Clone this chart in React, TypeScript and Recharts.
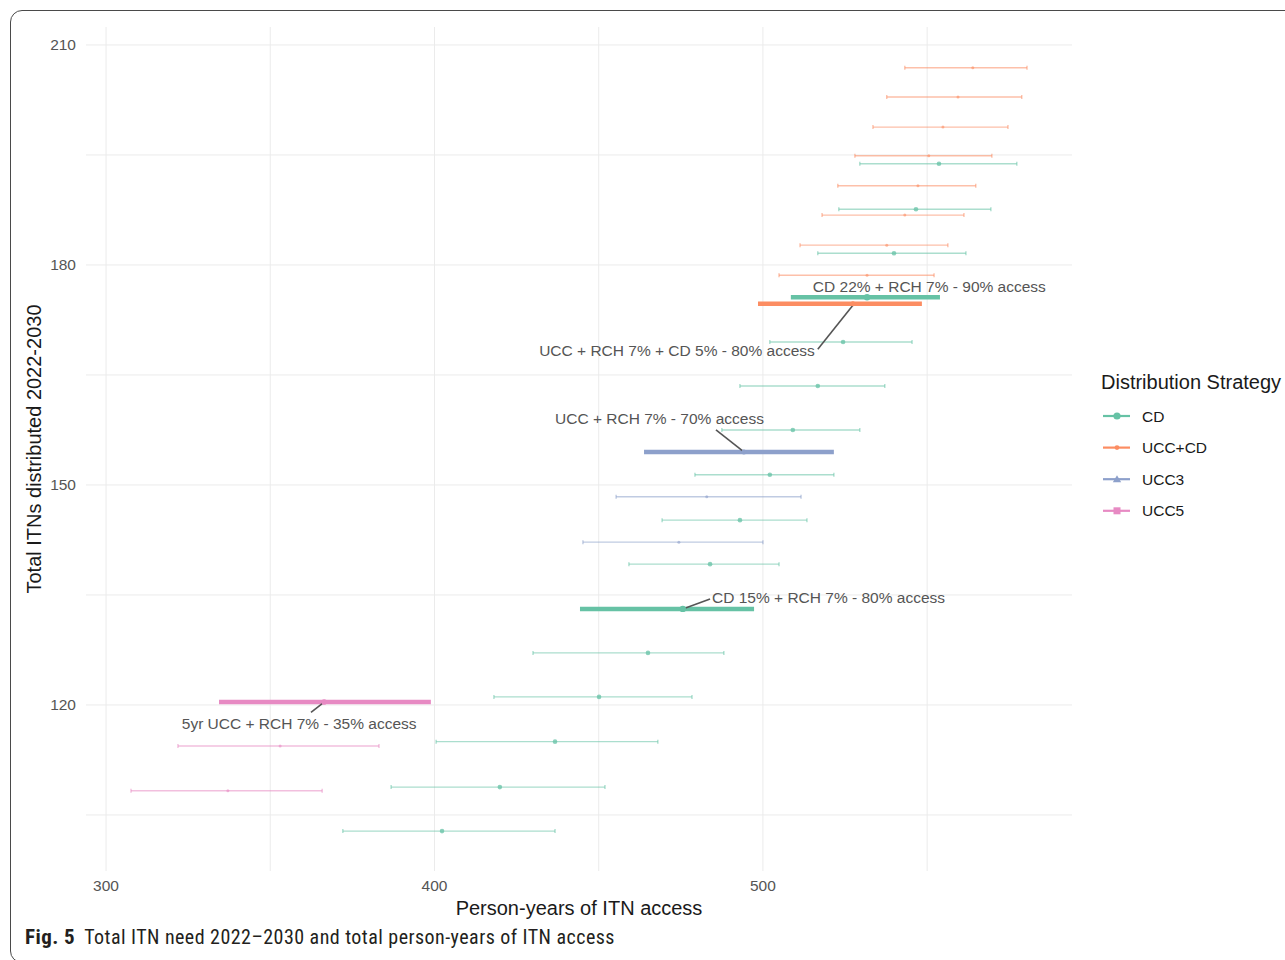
import React from 'react';
import {
  ComposedChart,
  Scatter,
  ErrorBar,
  XAxis,
  YAxis,
  ReferenceLine,
  ReferenceDot,
  Legend,
} from 'recharts';

const FONT = '"Liberation Sans", Arial, Helvetica, sans-serif';
const GREEN = '#66c2a5';
const ORANGE = '#fc8d62';
const BLUE = '#8da0cb';
const PINK = '#e78ac3';

// ---- Data: total ITNs distributed (y) and person-years of access (x: low / mid / high)
const cdTotal = [193.8, 187.6, 181.6, 169.5, 163.5, 157.5, 151.4, 145.2, 139.2, 127.1, 121.1, 115.0, 108.8, 102.8];
const cdLow = [529.5, 523.1, 516.7, 502.1, 493.0, 487.5, 479.3, 469.3, 459.2, 430.0, 418.1, 400.5, 386.8, 372.1];
const cdMid = [553.6, 546.6, 539.9, 524.4, 516.7, 509.1, 502.1, 493.0, 483.9, 465.0, 450.1, 436.7, 419.9, 402.3];
const cdHigh = [577.3, 569.4, 561.8, 545.4, 537.1, 529.5, 521.6, 513.4, 504.9, 488.1, 478.4, 468.0, 451.9, 436.7];

const cdHiTotal = [175.6, 133.1];
const cdHiLow = [508.5, 444.3];
const cdHiMid = [531.7, 475.6];
const cdHiHigh = [553.9, 497.3];

const uccCdTotal = [206.9, 202.9, 198.8, 194.9, 190.8, 186.8, 182.7, 178.6];
const uccCdLow = [543.2, 537.7, 533.5, 528.0, 522.8, 518.0, 511.3, 504.9];
const uccCdMid = [563.9, 559.4, 554.8, 550.5, 547.2, 543.2, 537.7, 531.7];
const uccCdHigh = [580.4, 578.8, 574.6, 569.7, 564.8, 561.2, 556.3, 552.1];

const uccCdHiTotal = [174.7];
const uccCdHiLow = [498.5];
const uccCdHiMid = [527.4];
const uccCdHiHigh = [548.4];

const ucc3Total = [148.4, 142.2];
const ucc3Low = [455.3, 445.2];
const ucc3Mid = [482.9, 474.4];
const ucc3High = [511.6, 500.0];

const ucc3HiTotal = [154.5];
const ucc3HiLow = [463.8];
const ucc3HiMid = [494.2];
const ucc3HiHigh = [521.6];

const ucc5Total = [114.4, 108.3];
const ucc5Low = [321.9, 307.6];
const ucc5Mid = [353.0, 337.1];
const ucc5High = [383.1, 365.8];

const ucc5HiTotal = [120.4];
const ucc5HiLow = [334.4];
const ucc5HiMid = [366.4];
const ucc5HiHigh = [398.9];

const xTicks = [300, 350, 400, 450, 500, 550];
const xTickLabels = [300, 400, 500];
const yTicks = [105, 120, 135, 150, 165, 180, 195, 210];
const yTickLabels = [120, 150, 180, 210];

const legendNames = ['CD', 'UCC+CD', 'UCC3', 'UCC5'];
const legendColors = [GREEN, ORANGE, BLUE, PINK];
const legendShapes = ['circle', 'dot', 'triangle', 'square'];

const annotations = [
  { text: 'CD 22% + RCH 7% - 90% access', x: 515.2, y: 177.0, anchor: 'start', leader: null },
  { text: 'UCC + RCH 7% + CD 5% - 80% access', x: 515.8, y: 168.4, anchor: 'end', leader: [[516.7, 168.5], [527.4, 174.5]] },
  { text: 'UCC + RCH 7% - 70% access', x: 468.5, y: 159.0, anchor: 'middle', leader: [[485.7, 157.5], [494.2, 154.5]] },
  { text: 'CD 15% + RCH 7% - 80% access', x: 484.5, y: 134.6, anchor: 'start', leader: [[475.6, 133.1], [483.9, 134.45]] },
  { text: '5yr UCC + RCH 7% - 35% access', x: 358.8, y: 117.5, anchor: 'middle', leader: [[362.4, 119.0], [366.4, 120.4]] },
];

function rows(total: number[], low: number[], mid: number[], high: number[]) {
  return total.map((y, i) => ({ x: mid[i], y, err: [mid[i] - low[i], high[i] - mid[i]] }));
}

const cdData = rows(cdTotal, cdLow, cdMid, cdHigh);
const cdHiData = rows(cdHiTotal, cdHiLow, cdHiMid, cdHiHigh);
const uccCdData = rows(uccCdTotal, uccCdLow, uccCdMid, uccCdHigh);
const uccCdHiData = rows(uccCdHiTotal, uccCdHiLow, uccCdHiMid, uccCdHiHigh);
const ucc3Data = rows(ucc3Total, ucc3Low, ucc3Mid, ucc3High);
const ucc3HiData = rows(ucc3HiTotal, ucc3HiLow, ucc3HiMid, ucc3HiHigh);
const ucc5Data = rows(ucc5Total, ucc5Low, ucc5Mid, ucc5High);
const ucc5HiData = rows(ucc5HiTotal, ucc5HiLow, ucc5HiMid, ucc5HiHigh);

const makeDot = (color: string, r: number, opacity: number) => (props: any) => {
  const { cx, cy } = props;
  if (cx == null || cy == null) return <g />;
  return <circle cx={cx} cy={cy} r={r} fill={color} fillOpacity={opacity} />;
};

const LegendBox = () => (
  <svg width={190} height={175} style={{ display: 'block' }}>
    <text x={6} y={22} fontSize={20} fill="#1a1a1a" fontFamily={FONT} dominantBaseline="central">
      Distribution Strategy
    </text>
    {legendNames.map((name, i) => {
      const cy = 56 + i * 31.6;
      const c = legendColors[i];
      const shape = legendShapes[i];
      let marker: React.ReactNode = null;
      if (shape === 'circle') marker = <circle cx={22} cy={cy} r={3.6} fill={c} />;
      if (shape === 'dot') marker = <circle cx={22} cy={cy} r={2.4} fill={c} />;
      if (shape === 'triangle')
        marker = <polygon points={`22,${cy - 4} ${26.2},${cy + 3} ${17.8},${cy + 3}`} fill={c} />;
      if (shape === 'square') marker = <rect x={18.5} y={cy - 3.5} width={7} height={7} fill={c} />;
      return (
        <g key={name}>
          <line x1={8} x2={35} y1={cy} y2={cy} stroke={c} strokeWidth={2.2} />
          {marker}
          <text x={47} y={cy} fontSize={15.5} fill="#1a1a1a" fontFamily={FONT} dominantBaseline="central">
            {name}
          </text>
        </g>
      );
    })}
  </svg>
);

const thinBar = (color: string) => (
  <ErrorBar dataKey="err" direction="x" width={2} stroke={color} strokeOpacity={0.55} strokeWidth={1.4} isAnimationActive={false} />
);
const thickBar = (color: string) => (
  <ErrorBar dataKey="err" direction="x" width={0} stroke={color} strokeWidth={4.5} isAnimationActive={false} />
);

export default function App() {
  return (
    <div style={{ position: 'absolute', left: 0, top: 0, width: 1285, height: 960, background: '#fff', overflow: 'hidden' }}>
      <div
        style={{
          position: 'absolute',
          left: 10,
          top: 10,
          width: 1300,
          height: 953,
          border: '1.5px solid #4a4a4a',
          borderRadius: 12,
          boxSizing: 'border-box',
        }}
      />
      <div style={{ position: 'absolute', left: 0, top: 0 }}>
        <ComposedChart width={1285} height={960} margin={{ top: 27, right: 213, bottom: 29, left: 0 }}>
          {xTicks.map((t) => (
            <ReferenceLine key={'gx' + t} x={t} stroke="#ebebeb" strokeWidth={1} />
          ))}
          {yTicks.map((t) => (
            <ReferenceLine key={'gy' + t} y={t} stroke="#ebebeb" strokeWidth={1} />
          ))}
          <XAxis
            type="number"
            dataKey="x"
            domain={[293.9, 594.1]}
            allowDataOverflow
            ticks={xTicks}
            tickFormatter={(v: number) => (xTickLabels.includes(v) ? String(v) : '')}
            axisLine={false}
            tickLine={false}
            tickSize={0}
            tickMargin={9}
            height={60}
            tick={{ fontSize: 15.5, fill: '#555', fontFamily: FONT }}
            label={{
              content: (p: any) => {
                const vb = p.viewBox || { x: 86, y: 871, width: 986, height: 60 };
                return (
                  <text x={vb.x + vb.width / 2} y={vb.y + 37} textAnchor="middle" dominantBaseline="central" fontSize={20} fill="#1a1a1a" fontFamily={FONT}>
                    Person-years of ITN access
                  </text>
                );
              },
            }}
          />
          <YAxis
            type="number"
            dataKey="y"
            domain={[97.36, 212.45]}
            allowDataOverflow
            ticks={yTicks}
            tickFormatter={(v: number) => (yTickLabels.includes(v) ? String(v) : '')}
            axisLine={false}
            tickLine={false}
            tickSize={0}
            tickMargin={10}
            width={86}
            tick={{ fontSize: 15.5, fill: '#555', fontFamily: FONT }}
            label={{
              content: (p: any) => {
                const vb = p.viewBox || { x: 0, y: 27, width: 86, height: 844 };
                const cx = vb.x + 34;
                const cy = vb.y + vb.height / 2;
                return (
                  <text x={cx} y={cy} transform={`rotate(-90, ${cx}, ${cy})`} textAnchor="middle" dominantBaseline="central" fontSize={20} fill="#1a1a1a" fontFamily={FONT}>
                    Total ITNs distributed 2022-2030
                  </text>
                );
              },
            }}
          />
          <Legend
            layout="vertical"
            align="center"
            verticalAlign="middle"
            wrapperStyle={{ left: 1095, top: 360, width: 190, height: 175 }}
            content={() => <LegendBox />}
          />

          <Scatter name="UCC+CD" data={uccCdData} shape={makeDot(ORANGE, 1.5, 0.6)} isAnimationActive={false} legendType="none">
            {thinBar(ORANGE)}
          </Scatter>
          <Scatter name="CD" data={cdData} shape={makeDot(GREEN, 2.3, 0.75)} isAnimationActive={false} legendType="none">
            {thinBar(GREEN)}
          </Scatter>
          <Scatter name="UCC3" data={ucc3Data} shape={makeDot(BLUE, 1.5, 0.6)} isAnimationActive={false} legendType="none">
            {thinBar(BLUE)}
          </Scatter>
          <Scatter name="UCC5" data={ucc5Data} shape={makeDot(PINK, 1.5, 0.6)} isAnimationActive={false} legendType="none">
            {thinBar(PINK)}
          </Scatter>

          <Scatter name="UCC+CD hi" data={uccCdHiData} shape={makeDot(ORANGE, 2.5, 1)} isAnimationActive={false} legendType="none">
            {thickBar(ORANGE)}
          </Scatter>
          <Scatter name="CD hi" data={cdHiData} shape={makeDot(GREEN, 3.2, 1)} isAnimationActive={false} legendType="none">
            {thickBar(GREEN)}
          </Scatter>
          <Scatter name="UCC3 hi" data={ucc3HiData} shape={makeDot(BLUE, 2.5, 1)} isAnimationActive={false} legendType="none">
            {thickBar(BLUE)}
          </Scatter>
          <Scatter name="UCC5 hi" data={ucc5HiData} shape={makeDot(PINK, 2.8, 1)} isAnimationActive={false} legendType="none">
            {thickBar(PINK)}
          </Scatter>

          {annotations.map((a, i) =>
            a.leader ? (
              <ReferenceLine
                key={'l' + i}
                segment={[
                  { x: a.leader[0][0], y: a.leader[0][1] },
                  { x: a.leader[1][0], y: a.leader[1][1] },
                ]}
                stroke="#555"
                strokeWidth={1.6}
                ifOverflow="visible"
              />
            ) : null
          )}
          {annotations.map((a, i) => (
            <ReferenceDot
              key={'t' + i}
              x={a.x}
              y={a.y}
              r={0.01}
              fill="none"
              stroke="none"
              ifOverflow="visible"
              label={{
                content: (p: any) => {
                  const vb = p.viewBox || { x: 0, y: 0 };
                  return (
                    <text x={vb.x} y={vb.y} textAnchor={a.anchor as any} dominantBaseline="central" fontSize={15.5} fill="#555" fontFamily={FONT}>
                      {a.text}
                    </text>
                  );
                },
              }}
            />
          ))}
        </ComposedChart>
      </div>
      <div
        style={{
          position: 'absolute',
          left: 25,
          top: 925,
          fontFamily: '"Liberation Sans Narrow", "Arial Narrow", "Roboto Condensed", sans-serif',
          fontSize: 20,
          letterSpacing: '0.45px',
          color: '#231f20',
          whiteSpace: 'nowrap',
          lineHeight: '24px',
        }}
      >
        <b style={{ fontSize: 21 }}>Fig. 5</b>
        <span style={{ marginLeft: 9 }}>Total ITN need 2022–2030 and total person-years of ITN access</span>
      </div>
    </div>
  );
}
